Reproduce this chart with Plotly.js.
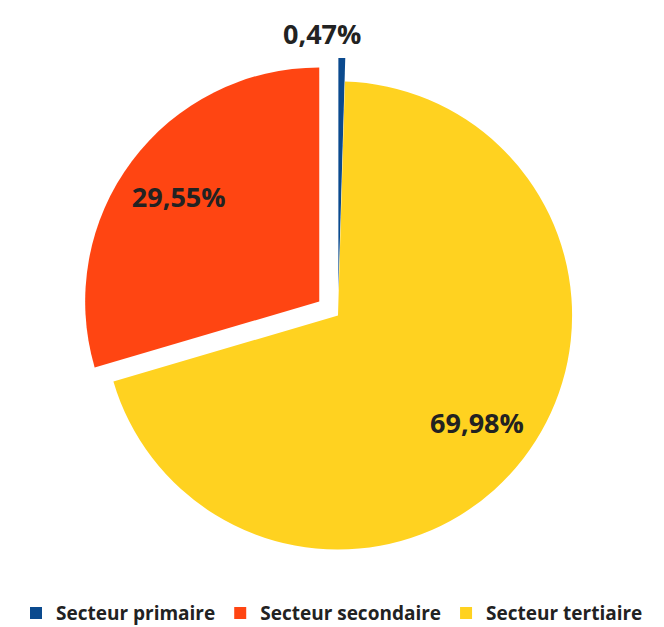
<!DOCTYPE html>
<html>
<head>
<meta charset="utf-8">
<script src="https://cdn.plot.ly/plotly-3.0.1.min.js"></script>
<style>html,body{margin:0;padding:0;background:#fff;}#chart{width:664px;height:627px;}</style>
</head>
<body>
<div id="chart"></div>
<script>
var categories = ["Secteur primaire", "Secteur secondaire", "Secteur tertiaire"];
var values = [0.47, 29.55, 69.98];
var colors = ["#0B4A8E", "#FF4512", "#FFD220"];
var pulls = [0.1, 0.1, 0];

var textColor = "#222222";
var fontFam = "Open Sans";

var total = values.reduce(function (a, b) { return a + b; }, 0);
function fmtPct(v) {
  return (v / total * 100).toFixed(2).replace(".", ",") + "%";
}

// main pie (slices + legend)
var pie = {
  type: "pie",
  labels: categories,
  values: values,
  sort: false,
  direction: "counterclockwise",
  rotation: 0,
  pull: pulls,
  marker: {colors: colors, line: {width: 0}},
  textinfo: "none",
  hoverinfo: "label+percent",
  automargin: false,
  domain: {x: [0, 1], y: [0, 1]}
};

// transparent ring carrying the inside labels of the two big slices
var labelRing = {
  type: "pie",
  labels: categories,
  values: values,
  sort: false,
  direction: "counterclockwise",
  rotation: 0,
  pull: pulls,
  hole: 0.5,
  showlegend: false,
  marker: {colors: ["rgba(0,0,0,0)", "rgba(0,0,0,0)", "rgba(0,0,0,0)"], line: {width: 0}},
  text: values.map(function (v, i) { return i === 0 ? "" : fmtPct(v); }),
  textinfo: "text",
  textposition: "inside",
  insidetextorientation: "horizontal",
  textfont: {family: fontFam, size: 27, color: textColor, weight: 700},
  hoverinfo: "skip",
  automargin: false,
  domain: {x: [0, 1], y: [0, 1]}
};

var layout = {
  width: 664,
  height: 627,
  separators: ", ",
  margin: {l: 12, r: 0, t: 58, b: 54, autoexpand: false},
  paper_bgcolor: "#ffffff",
  showlegend: true,
  legend: {
    orientation: "h",
    x: 0.5, xanchor: "center",
    xref: "container",
    yref: "container",
    y: 0.022, yanchor: "middle",
    font: {family: fontFam, size: 19, color: textColor, weight: 700},
    traceorder: "normal"
  },
  annotations: [{
    text: fmtPct(values[0]),
    xref: "paper", yref: "paper",
    x: 0.4755, y: 1.0485,
    xanchor: "center", yanchor: "middle",
    showarrow: false,
    font: {family: fontFam, size: 27, color: textColor, weight: 700}
  }]
};

Plotly.newPlot("chart", [pie, labelRing], layout, {displayModeBar: false});
</script>
</body>
</html>
